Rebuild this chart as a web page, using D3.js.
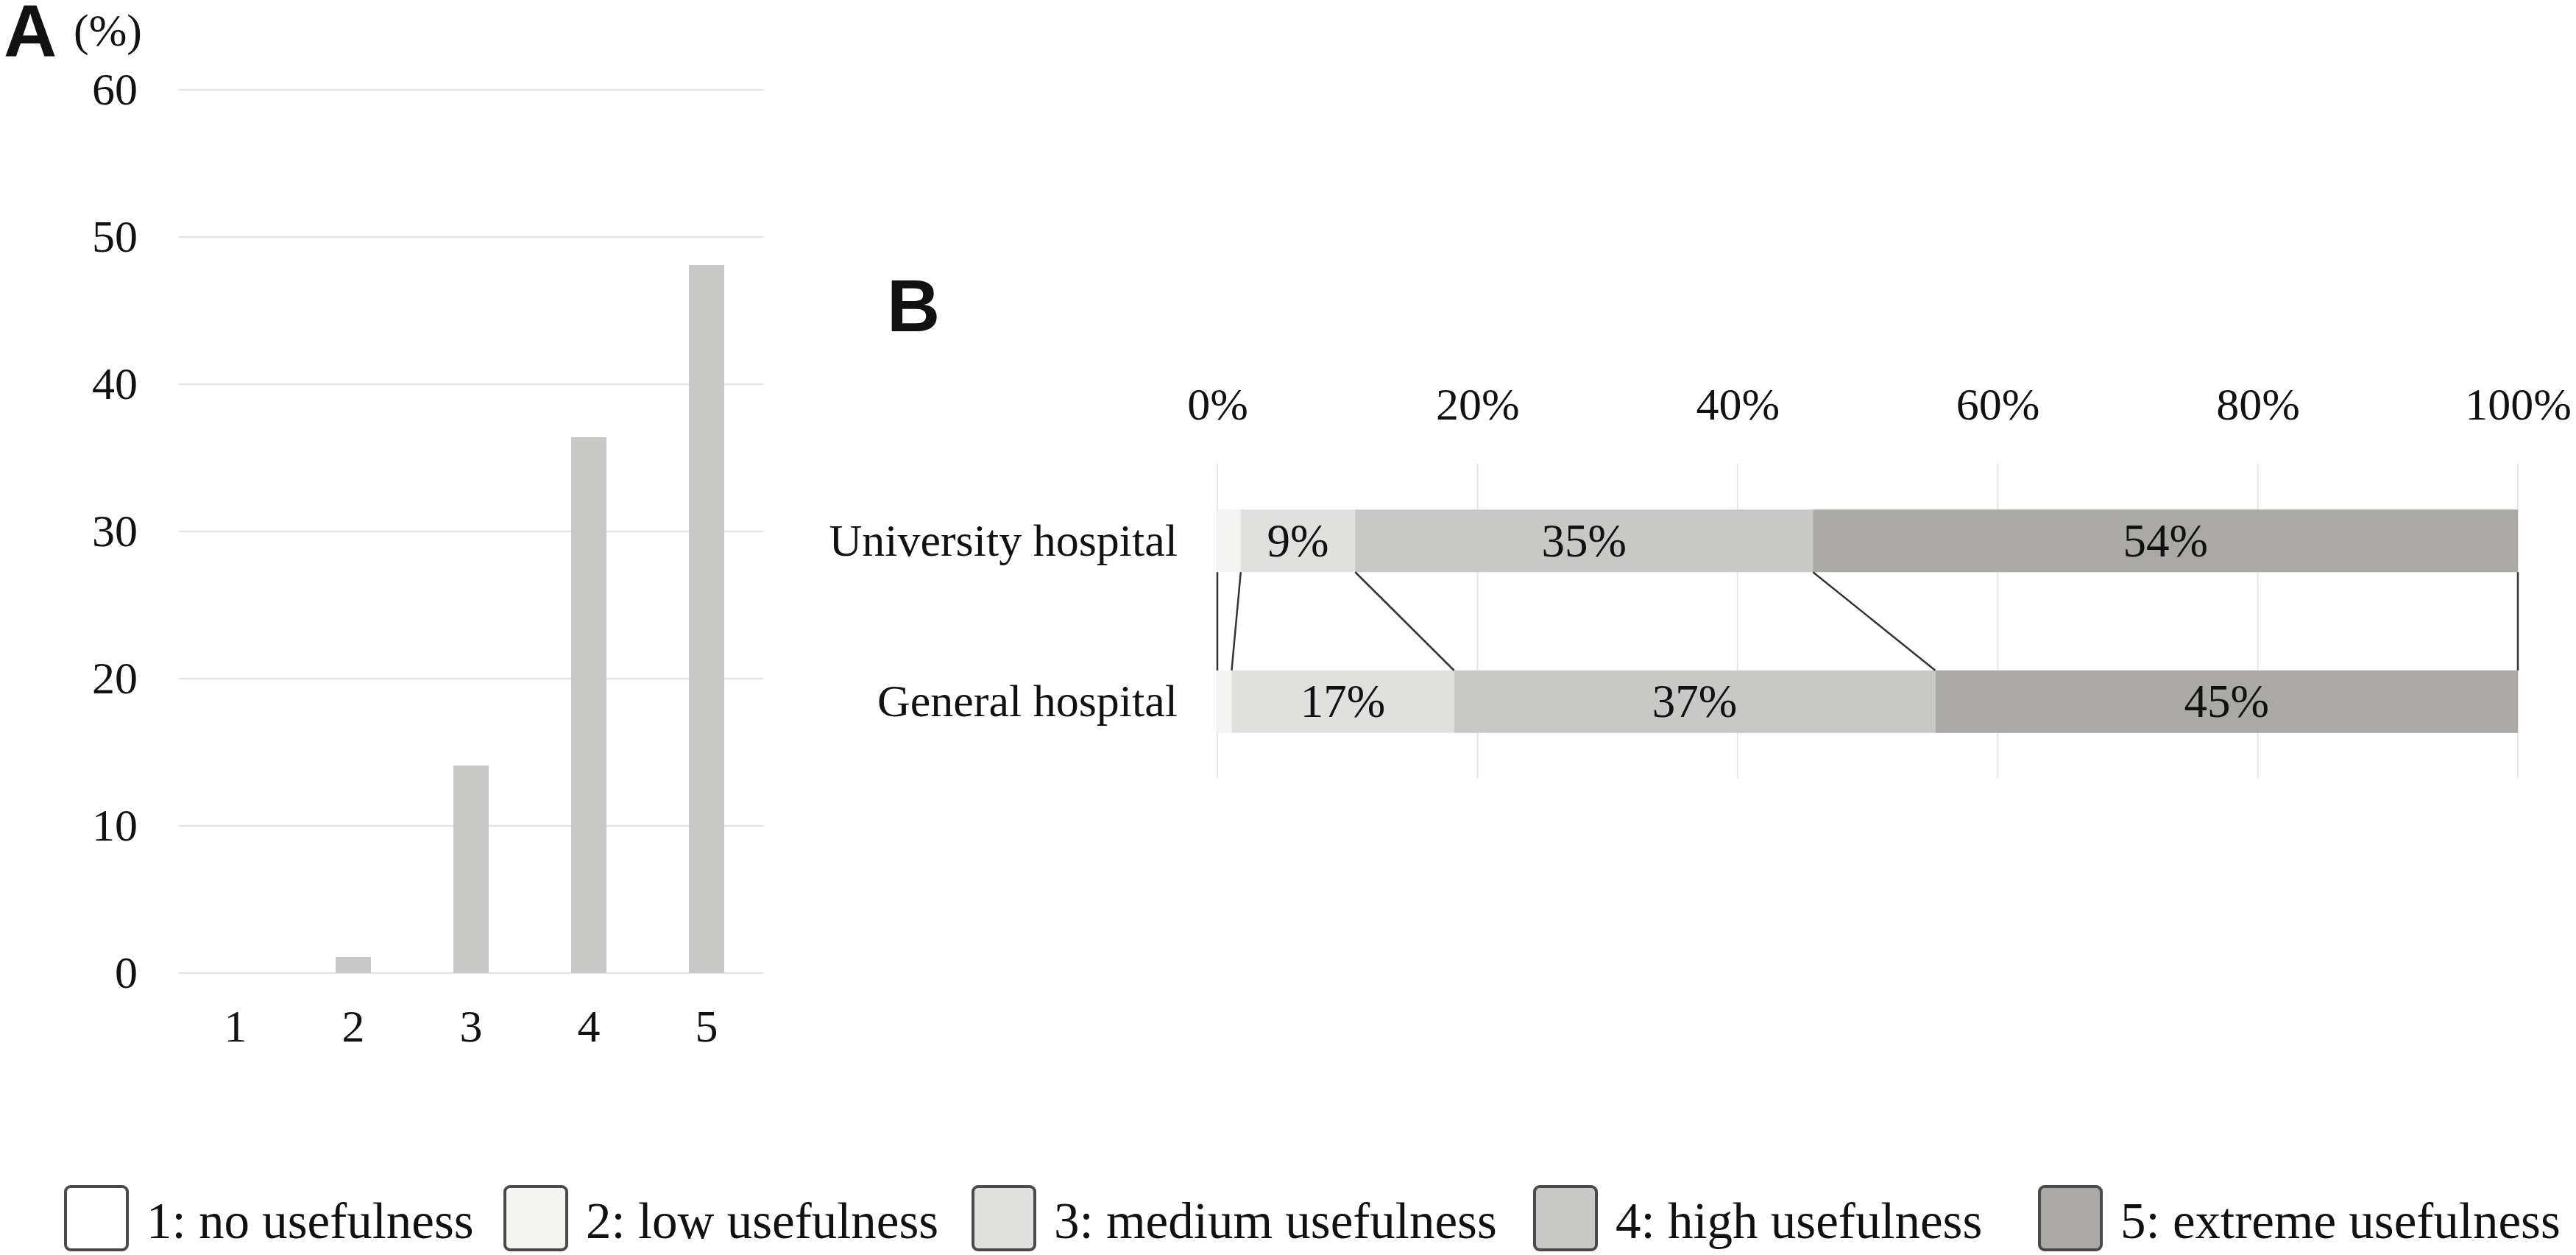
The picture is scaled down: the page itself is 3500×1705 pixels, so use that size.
<!DOCTYPE html>
<html>
<head>
<meta charset="utf-8">
<script src="https://cdn.jsdelivr.net/npm/d3@7"></script>
<style>
  html, body { margin: 0; padding: 0; background: #ffffff; }
  svg { display: block; }
  text { font-family: "Liberation Serif", "Times New Roman", serif; fill: #111; }
</style>
</head>
<body>
<script>
// ---------------- DATA ----------------
const ratingCats = ["1", "2", "3", "4", "5"];
const ratingPct = [0, 1.1, 14.1, 36.4, 48.1];
const yTicksA = [0, 10, 20, 30, 40, 50, 60];

const hospitals = ["University hospital", "General hospital"];
const seriesNames = ["1: no usefulness", "2: low usefulness", "3: medium usefulness", "4: high usefulness", "5: extreme usefulness"];
const universityPct = [0, 1.8, 8.8, 35.2, 54.2];
const generalPct = [0, 1.1, 17.1, 37.0, 44.8];
const xTicksB = [0, 20, 40, 60, 80, 100];

const seriesColors = ["#ffffff", "#f4f4f3", "#e0e0de", "#c8c8c6", "#aaa9a5"];
const barColorA = "#c8c8c6";

// ---------------- SETUP ----------------
const W = 3500, H = 1705;
const svg = d3.select("body").append("svg").attr("width", W).attr("height", H);
svg.append("rect").attr("width", W).attr("height", H).attr("fill", "#fff");

// ---------------- PANEL A ----------------
svg.append("text").attr("x", 5).attr("y", 77)
  .style("font-family", "'Liberation Sans', Arial, sans-serif")
  .style("font-weight", "bold").style("font-size", "100px").attr("fill", "#000").text("A");
svg.append("text").attr("x", 100).attr("y", 62)
  .style("font-size", "62px").text("(%)");

const xA = d3.scaleBand().domain(ratingCats).range([243, 1037]).paddingInner(0.7).paddingOuter(0.331);
const yA = d3.scaleLinear().domain([0, 60]).range([1322, 122]);

const gA = svg.append("g");
gA.selectAll("line.grid").data(yTicksA).join("line")
  .attr("class", "grid")
  .attr("x1", 243).attr("x2", 1037)
  .attr("y1", d => yA(d)).attr("y2", d => yA(d))
  .attr("stroke", "#e6e6e6").attr("stroke-width", 2.5);

gA.selectAll("rect.bar").data(ratingCats.map((c, i) => ({ c, v: ratingPct[i] }))).join("rect")
  .attr("class", "bar")
  .attr("x", d => xA(d.c)).attr("width", xA.bandwidth())
  .attr("y", d => yA(d.v)).attr("height", d => yA(0) - yA(d.v))
  .attr("fill", barColorA);

const axYA = svg.append("g").attr("transform", "translate(243,0)")
  .call(d3.axisLeft(yA).tickValues(yTicksA).tickSize(0).tickPadding(56));
axYA.select(".domain").remove();
axYA.selectAll("text").style("font-family", "'Liberation Serif', serif").style("font-size", "62px").attr("fill", "#111");

const axXA = svg.append("g").attr("transform", "translate(0,1322)")
  .call(d3.axisBottom(xA).tickSize(0).tickPadding(49));
axXA.select(".domain").remove();
axXA.selectAll("text").style("font-family", "'Liberation Serif', serif").style("font-size", "62px").attr("fill", "#111");

// ---------------- PANEL B ----------------
svg.append("text").attr("x", 1205).attr("y", 450)
  .style("font-family", "'Liberation Sans', Arial, sans-serif")
  .style("font-weight", "bold").style("font-size", "100px").attr("fill", "#000").text("B");

const xB = d3.scaleLinear().domain([0, 100]).range([1654, 3421]);
const yB = d3.scaleBand().domain(hospitals).range([625.5, 1062.5]).paddingInner(0.611).paddingOuter(0.3055);
const bw = yB.bandwidth();

const gB = svg.append("g");
gB.selectAll("line.gridB").data(xTicksB).join("line")
  .attr("class", "gridB")
  .attr("x1", d => xB(d)).attr("x2", d => xB(d))
  .attr("y1", 630).attr("y2", 1057)
  .attr("stroke", "#e6e6e6").attr("stroke-width", 2);

const keys = seriesNames;
const table = hospitals.map((h, j) => {
  const src = j === 0 ? universityPct : generalPct;
  const row = { hospital: h };
  keys.forEach((k, i) => row[k] = src[i]);
  return row;
});
const stacked = d3.stack().keys(keys)(table);

stacked.forEach((layer, i) => {
  gB.selectAll("rect.s" + i).data(layer).join("rect")
    .attr("class", "s" + i)
    .attr("x", d => xB(d[0])).attr("width", d => xB(d[1]) - xB(d[0]))
    .attr("y", d => yB(d.data.hospital)).attr("height", bw)
    .attr("fill", seriesColors[i]);
});

// series connector lines
const lineG = gB.append("g");
stacked.forEach((layer, i) => {
  lineG.append("line")
    .attr("x1", xB(layer[0][1])).attr("y1", yB(hospitals[0]) + bw)
    .attr("x2", xB(layer[1][1])).attr("y2", yB(hospitals[1]))
    .attr("stroke", "#333").attr("stroke-width", 2.5);
});

// data labels
stacked.forEach((layer, i) => {
  gB.selectAll("text.l" + i).data(layer.filter(d => d[1] - d[0] >= 5)).join("text")
    .attr("class", "l" + i)
    .attr("x", d => (xB(d[0]) + xB(d[1])) / 2)
    .attr("y", d => yB(d.data.hospital) + bw / 2 + 21)
    .attr("text-anchor", "middle")
    .style("font-size", "63px")
    .text(d => Math.round(d[1] - d[0]) + "%");
});

const axXB = svg.append("g").attr("transform", "translate(0,630)")
  .call(d3.axisTop(xB).tickValues(xTicksB).tickSize(0).tickPadding(60).tickFormat(d => d + "%"));
axXB.select(".domain").remove();
axXB.selectAll("text").style("font-family", "'Liberation Serif', serif").style("font-size", "62px").attr("fill", "#111");

const axYB = svg.append("g").attr("transform", "translate(1654,0)")
  .call(d3.axisLeft(yB).tickSize(0).tickPadding(54));
axYB.select(".domain").remove();
axYB.selectAll("text").style("font-family", "'Liberation Serif', serif").style("font-size", "62px").attr("fill", "#111");

// ---------------- LEGEND ----------------
const legendX = [89, 686, 1322, 2085, 2771];
const lg = svg.append("g");
seriesNames.forEach((name, i) => {
  lg.append("rect")
    .attr("x", legendX[i]).attr("y", 1612).attr("width", 84).attr("height", 86)
    .attr("rx", 7).attr("fill", seriesColors[i])
    .attr("stroke", "#4a4a4a").attr("stroke-width", 4);
  lg.append("text")
    .attr("x", legendX[i] + 110).attr("y", 1682)
    .style("font-size", "69px").text(name);
});
</script>
</body>
</html>
